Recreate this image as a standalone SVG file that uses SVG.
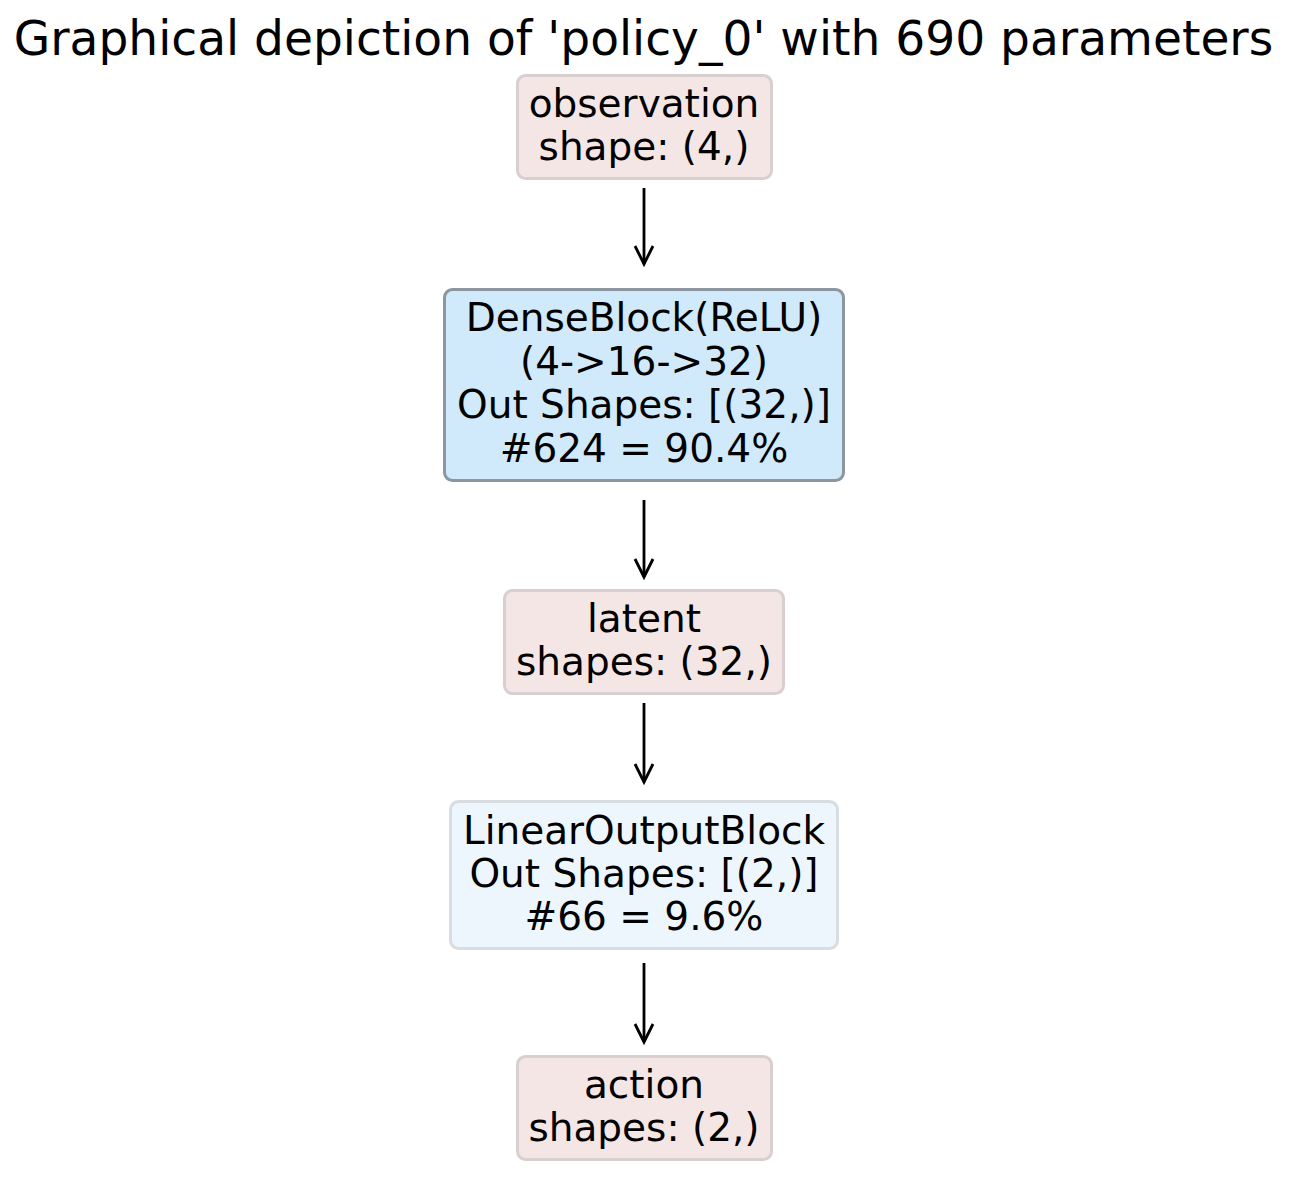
<svg xmlns="http://www.w3.org/2000/svg" width="1298" height="1181" viewBox="0 0 1298 1181">
<style>
text{font-family:"DejaVu Sans","Liberation Sans",sans-serif;fill:#000;text-anchor:middle}
.t{font-size:47.1px}
.n{font-size:39px}
.io rect{fill:#f5e6e6;stroke:#d8cfcf;stroke-width:3}
.blk rect{fill:#d0e9fb;stroke:#8b969e;stroke-width:3}
.lin rect{fill:#eef6fd;stroke:#d7dde1;stroke-width:3}
.edge{stroke:#000;stroke-width:2.8;fill:none}
.head{stroke:#000;stroke-width:2.8;fill:none;stroke-linejoin:miter}
</style>
<rect width="1298" height="1181" fill="#fff"/>
<text class="t" x="643.5" y="55">Graphical depiction of 'policy_0' with 690 parameters</text>
<g id="connectors">
<line class="edge" x1="644" y1="188" x2="644" y2="264"/>
<polyline class="head" points="635,246 644,264 653,246"/>
<line class="edge" x1="644" y1="500" x2="644" y2="577"/>
<polyline class="head" points="635,559 644,577 653,559"/>
<line class="edge" x1="644" y1="703" x2="644" y2="782"/>
<polyline class="head" points="635,764 644,782 653,764"/>
<line class="edge" x1="644" y1="963" x2="644" y2="1042"/>
<polyline class="head" points="635,1024 644,1042 653,1024"/>
</g>
<g id="observation" class="io">
<rect x="517.5" y="75.5" width="254" height="103" rx="8"/>
<text class="n" x="644" y="117">observation</text>
<text class="n" x="644" y="160">shape: (4,)</text>
</g>
<g id="denseblock" class="blk">
<rect x="444.5" y="289.5" width="399" height="191" rx="8"/>
<text class="n" x="644" y="331">DenseBlock(ReLU)</text>
<text class="n" x="644" y="374.5">(4-&gt;16-&gt;32)</text>
<text class="n" x="644" y="418">Out Shapes: [(32,)]</text>
<text class="n" x="644" y="461.5">#624 = 90.4%</text>
</g>
<g id="latent" class="io">
<rect x="504.5" y="590.5" width="279" height="103" rx="8"/>
<text class="n" x="644" y="632">latent</text>
<text class="n" x="644" y="675">shapes: (32,)</text>
</g>
<g id="linearoutputblock" class="lin">
<rect x="450.5" y="801.5" width="387" height="147" rx="8"/>
<text class="n" x="644" y="843.5">LinearOutputBlock</text>
<text class="n" x="644" y="887">Out Shapes: [(2,)]</text>
<text class="n" x="644" y="930">#66 = 9.6%</text>
</g>
<g id="action" class="io">
<rect x="517.5" y="1056.5" width="254" height="103" rx="8"/>
<text class="n" x="644" y="1098">action</text>
<text class="n" x="644" y="1141">shapes: (2,)</text>
</g>
</svg>
